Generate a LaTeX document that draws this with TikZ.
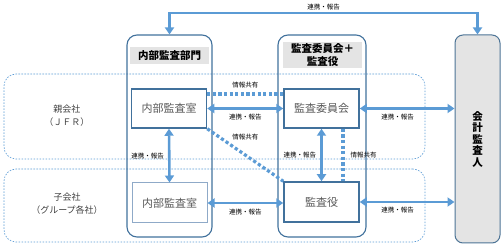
\documentclass[tikz,border=0pt]{standalone}
\usepackage{fontspec}
\setmainfont{Noto Sans CJK JP}
\usetikzlibrary{arrows.meta,positioning,calc}
\definecolor{linkblue}{HTML}{5B9BD5}
\definecolor{frameblue}{HTML}{41719C}
\definecolor{paleframe}{HTML}{8FAAC8}
\definecolor{headgray}{HTML}{E4E4E4}
\definecolor{textgray}{HTML}{595959}

\begin{document}
\begin{tikzpicture}[x=1pt, y=-1pt,
  region/.style={draw=linkblue, line width=0.6pt, dash pattern=on 1.6pt off 1.4pt, rounded corners=12pt},
  column/.style={draw=frameblue, line width=1.1pt, rounded corners=10pt},
  header/.style={fill=headgray, font=\fontsize{10.5}{12.5}\bfseries\selectfont, align=center, inner sep=0pt},
  unit/.style={draw=frameblue, line width=1.5pt, fill=white, text=textgray, font=\fontsize{11}{12}\selectfont, minimum width=75pt, minimum height=39pt},
  link/.style={linkblue, line width=2.6pt, {Triangle[length=7pt,width=9pt]}-{Triangle[length=7pt,width=9pt]}},
  share/.style={linkblue, line width=3.2pt, dash pattern=on 3.2pt off 2.4pt},
  lbl/.style={font=\fontsize{6.5}{7}\selectfont, text=black, inner sep=1pt}]
\useasboundingbox (0,0) rectangle (504,248);

% --- Group regions ---
\node[region, minimum width=421pt, minimum height=85pt] (parent) at (214.5,116.5) {};
\node[region, minimum width=421pt, minimum height=73pt] (child) at (214.5,205.5) {};
\node[text=black!75, font=\fontsize{9}{13}\selectfont, align=center] (parentlbl) at (67,116) {親会社\\（ＪＦＲ）};
\node[text=black!75, font=\fontsize{9}{13}\selectfont, align=center] (childlbl) at (67,203.5) {子会社\\（グループ各社）};

% --- Columns ---
\node[column, minimum width=85pt, minimum height=202pt] (col1) at (169.5,136) {};
\node[column, minimum width=88pt, minimum height=202pt] (col2) at (322,136) {};
\node[header, minimum width=79pt, minimum height=17pt] (head1) at (169.5,55.5) {内部監査部門};
\node[header, minimum width=79pt, minimum height=26pt] (head2) at (322.5,55) {監査委員会＋\\監査役};

% Accounting auditor
\node[draw=frameblue!80!gray, line width=1pt, fill=headgray, rounded corners=8pt,
      minimum width=45pt, minimum height=208pt, align=center,
      font=\fontsize{10.5}{11.5}\bfseries\selectfont] (aud) at (477.5,139) {会\\計\\監\\査\\人};

% --- Units ---
\node[unit] (iaP) at (169,108.5) {内部監査室};
\node[unit, draw=paleframe, line width=1pt, minimum height=40pt] (iaC) at (169.5,203) {内部監査室};
\node[unit] (acm) at (321.5,108.5) {監査委員会};
\node[unit, minimum height=40pt] (kan) at (321.5,202) {監査役};

% --- Information sharing (dotted) ---
\draw[share] ([yshift=14.5pt]iaP.east) -- node[lbl, above=3pt] {情報共有} ([yshift=14.5pt]acm.west);
\draw[share] (iaP.south east) -- node[lbl, pos=0.5, yshift=18pt] {情報共有} (kan.north west);
\draw[share] ([xshift=21.5pt]acm.south) -- node[lbl, right=5pt] {情報共有} ([xshift=21.5pt]kan.north);

% --- Cooperation / reporting arrows ---
\draw[link] (iaP.east) -- node[lbl, below=3pt] {連携・報告} (acm.west);
\draw[link] (iaC.east) -- node[lbl, below=4pt] {連携・報告} (kan.west |- iaC.east);
\draw[link] (iaP.south) -- node[lbl, left=3pt] {連携・報告} (iaC.north);
\draw[link] (acm.south) -- node[lbl, left=3pt] {連携・報告} (kan.north);
\draw[link] (acm.east) -- node[lbl, below=3pt, pos=0.4] {連携・報告} (aud.west |- acm.east);
\draw[link] (kan.east) -- node[lbl, below=3pt, pos=0.4] {連携・報告} (aud.west |- kan.east);

% Top loop
\coordinate (topR) at (477.5,13);
\draw[link] (col1.north) |- node[lbl, above=1pt, pos=0.75] {連携・報告} (topR) -- (aud.north);
\end{tikzpicture}
\end{document}
